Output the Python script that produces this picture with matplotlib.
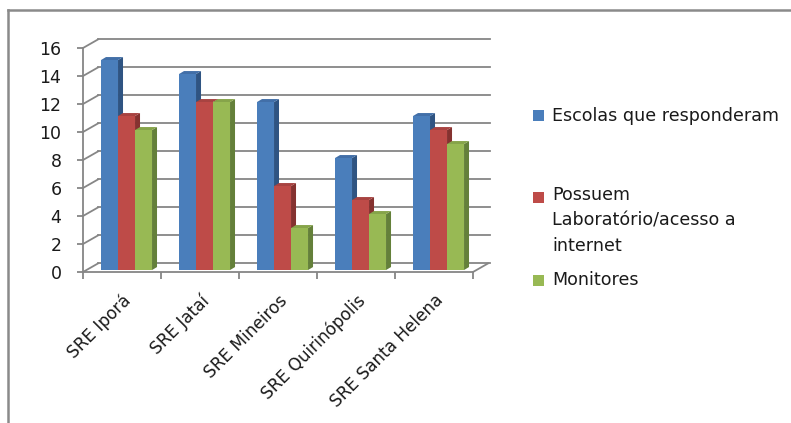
import matplotlib.pyplot as plt
from matplotlib.patches import Polygon, Rectangle
from matplotlib.lines import Line2D

categories = ['SRE Iporá', 'SRE Jataí', 'SRE Mineiros', 'SRE Quirinópolis', 'SRE Santa Helena']
escolas = [15, 14, 12, 8, 11]
laboratorio = [11, 12, 6, 5, 10]
monitores = [10, 12, 3, 4, 9]
series_names = ['Escolas que responderam', 'Possuem\nLaboratório/acesso a\ninternet', 'Monitores']
yticks = [0, 2, 4, 6, 8, 10, 12, 14, 16]

series = [escolas, laboratorio, monitores]
front = ['#4A7EBB', '#BE4B48', '#98B954']
top = ['#426FA8', '#A84341', '#86A44A']
side = ['#2F5482', '#853230', '#64803A']

plt.rcParams['font.family'] = 'DejaVu Sans'
fig = plt.figure(figsize=(7.91, 4.23), dpi=100)
W, H = 791, 423
# front plane of the plot: x 83..473 px, y 272..48 px
ax = fig.add_axes([83 / W, (H - 272) / H, 390 / W, 224 / H])
ax.set_xlim(-0.5, 4.5)
ax.set_ylim(0, 16)

grid_c = '#868686'
# offsets of the back wall and of the bars, in data units
wx, wy = 0.192, 0.61
sx, sy = 0.058, 0.14
dx, dy = 0.064, 0.214
w = 0.218

# back wall gridlines and left-wall diagonals
for v in yticks:
    ax.plot([-0.5 + wx, 4.5 + wx + 0.02], [v + wy, v + wy], color=grid_c, lw=1.3, zorder=0, clip_on=False)
    ax.plot([-0.5, -0.5 + wx], [v, v + wy], color=grid_c, lw=1.3, zorder=0, clip_on=False)
ax.plot([4.5, 4.5 + wx], [0, wy], color=grid_c, lw=1.3, zorder=0, clip_on=False)

n = len(categories)
for j, vals in enumerate(series):
    for i, v in enumerate(vals):
        xl = i + sx + (j - 1.5) * w
        xr = xl + w
        b = sy
        t = v + sy
        ax.add_patch(Polygon([(xr, b), (xr + dx, b + dy), (xr + dx, t + dy), (xr, t)],
                             closed=True, fc=side[j], ec='none', zorder=2 + j))
        ax.add_patch(Polygon([(xl, t), (xl + dx, t + dy), (xr + dx, t + dy), (xr, t)],
                             closed=True, fc=top[j], ec='none', zorder=2 + j))
        ax.add_patch(Rectangle((xl, b), w, v, fc=front[j], ec='none', zorder=2 + j))

for s in ['top', 'right']:
    ax.spines[s].set_visible(False)
for s in ['left', 'bottom']:
    ax.spines[s].set_color(grid_c)
    ax.spines[s].set_linewidth(1.3)

ax.set_yticks(yticks)
ax.tick_params(axis='y', length=4.5, width=1.3, color=grid_c, pad=11, labelsize=12.5, labelcolor='#1a1a1a')
ax.set_xticks(range(n))
ax.set_xticklabels(categories, rotation=45, ha='right', rotation_mode='anchor', fontsize=12.2, color='#1a1a1a')
ax.tick_params(axis='x', which='major', length=0, pad=14)
ax.set_xticks([k - 0.5 for k in range(n + 1)], minor=True)
ax.tick_params(axis='x', which='minor', length=5, width=1.3, color=grid_c)

# legend
sq_y = [116, 198, 280]
for j in range(3):
    fig.patches.append(Rectangle((533 / W, 1 - (sq_y[j] + 5.5) / H), 11 / W, 11 / H,
                                 fc=front[j], ec='none', transform=fig.transFigure))
fig.text(552 / W, 1 - 116 / H, series_names[0], fontsize=12.6, va='center', color='#1a1a1a')
fig.text(552 / W, 1 - 186 / H, series_names[1], fontsize=12.6, va='top', color='#1a1a1a', linespacing=1.55)
fig.text(552 / W, 1 - 280 / H, series_names[2], fontsize=12.6, va='center', color='#1a1a1a')

# chart frame
fig.add_artist(Line2D([8 / W, 1], [1 - 10 / H, 1 - 10 / H], color='#8a8a8a', lw=1.8, transform=fig.transFigure))
fig.add_artist(Line2D([8 / W, 8 / W], [0, 1 - 10 / H], color='#8a8a8a', lw=1.8, transform=fig.transFigure))

fig.savefig('out.png', dpi=100)
